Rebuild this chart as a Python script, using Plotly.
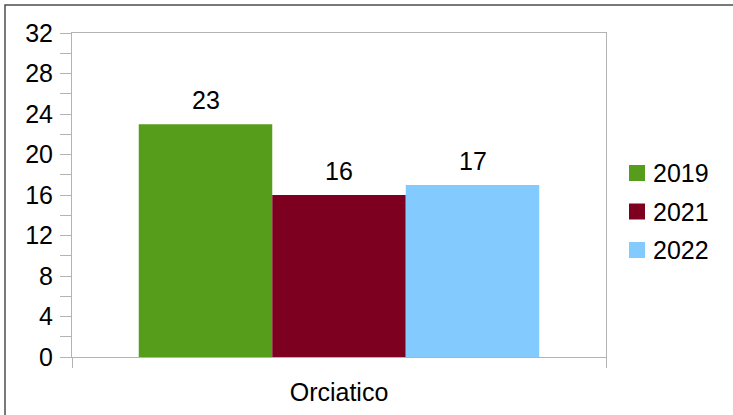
import plotly.graph_objects as go

# Data
categories = ["Orciatico"]
years = ["2019", "2021", "2022"]
values_2019 = [23]
values_2021 = [16]
values_2022 = [17]
colors = ["#579d1c", "#7e0021", "#83caff"]

series = [values_2019, values_2021, values_2022]

FONT = "Liberation Sans, Arial, sans-serif"
FS = 25
AXIS_GRAY = "#b3b3b3"

W, H = 733, 415
L, R, T, B = 72, 127, 33, 58
pw, ph = W - L - R, H - T - B

def px_x(p):
    return (p - L) / pw

def px_y(p):
    return (H - B - p) / ph

BARGAP = 0.25
n = len(series)
bar_w = (1 - BARGAP) / n

fig = go.Figure()
annotations = []
for i, (name, vals, col) in enumerate(zip(years, series, colors)):
    fig.add_trace(go.Bar(
        x=categories, y=vals, name=name,
        marker=dict(color=col, line=dict(width=0)),
        showlegend=False,
    ))
    # value labels centred over each bar of the group
    off = -(1 - BARGAP) / 2 + bar_w * (i + 0.5)
    for ci, v in enumerate(vals):
        annotations.append(dict(
            x=ci + off, y=v, xref="x", yref="y", text=str(v),
            showarrow=False, yanchor="bottom", yshift=8,
            font=dict(size=FS, family=FONT, color="#000000"),
        ))

# legend: coloured squares with year labels
legend_top = 165
legend_step = 38.5
shapes = [
    dict(type="rect", xref="paper", yref="paper",
         x0=px_x(5), x1=px_x(745), y0=px_y(425), y1=px_y(5),
         line=dict(color="#4d4d4d", width=1.5), fillcolor="rgba(0,0,0,0)",
         layer="below"),
]
for i, (name, col) in enumerate(zip(years, colors)):
    top = legend_top + i * legend_step
    shapes.append(dict(type="rect", xref="paper", yref="paper",
                       x0=px_x(629), x1=px_x(645), y0=px_y(top + 16), y1=px_y(top),
                       line=dict(width=0), fillcolor=col))
    annotations.append(dict(
        x=px_x(651), y=px_y(top + 8), xref="paper", yref="paper",
        text=name, showarrow=False, xanchor="left", yanchor="middle",
        font=dict(size=FS, family=FONT, color="#000000"),
    ))

fig.update_layout(
    width=W, height=H,
    margin=dict(l=L, r=R, t=T, b=B, autoexpand=False),
    paper_bgcolor="white", plot_bgcolor="white",
    barmode="group", bargap=BARGAP, bargroupgap=0,
    font=dict(family=FONT, size=FS, color="#000000"),
    showlegend=False,
    xaxis=dict(
        showline=True, linecolor=AXIS_GRAY, linewidth=1,
        mirror=True, automargin=False,
        ticks="outside", tickson="boundaries", ticklen=10, tickcolor=AXIS_GRAY,
        showgrid=False, ticklabelstandoff=13,
        tickfont=dict(size=FS, family=FONT),
    ),
    yaxis=dict(
        range=[0, 32], dtick=4, tick0=0,
        showline=True, linecolor=AXIS_GRAY, linewidth=1,
        mirror=True, automargin=False,
        ticks="outside", ticklen=11, tickcolor=AXIS_GRAY,
        minor=dict(dtick=2, ticks="outside", ticklen=11, tickcolor=AXIS_GRAY, showgrid=False),
        showgrid=False, zeroline=False, ticklabelstandoff=2,
        tickfont=dict(size=FS, family=FONT),
    ),
    shapes=shapes,
    annotations=annotations,
)

fig.write_html("out.html")
